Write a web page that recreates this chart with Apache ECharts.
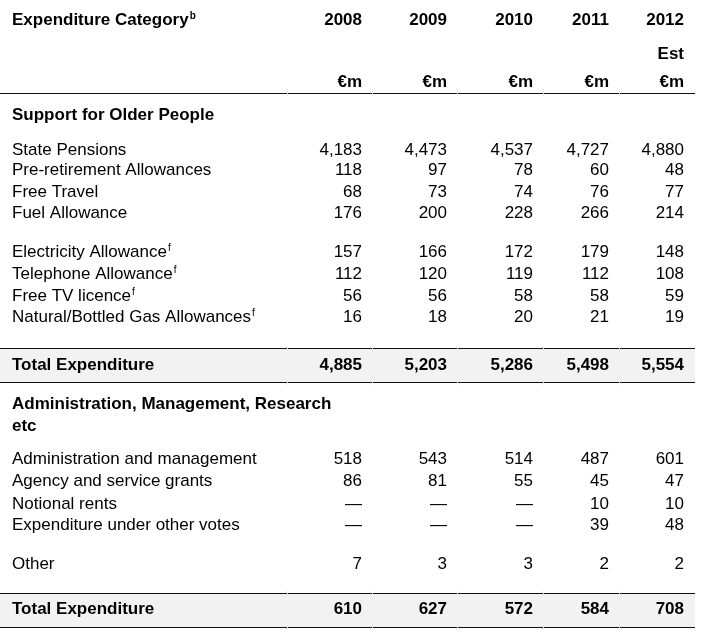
<!DOCTYPE html>
<html><head><meta charset="utf-8">
<script src="https://cdn.jsdelivr.net/npm/echarts@6/dist/echarts.min.js"></script>
<style>html,body{margin:0;padding:0;background:#fff}#c{width:703px;height:632px}</style>
</head><body><div id="c"></div>
<script>
// ---------- DATA ----------
const headerTitle = 'Expenditure Category';
const headerSup = 'b';
const years = ['2008', '2009', '2010', '2011', '2012'];
const yearNotes = ['', '', '', '', 'Est'];
const units = ['€m', '€m', '€m', '€m', '€m'];

const section1Title = 'Support for Older People';
const section1Items = ['State Pensions', 'Pre-retirement Allowances', 'Free Travel', 'Fuel Allowance',
  'Electricity Allowance', 'Telephone Allowance', 'Free TV licence', 'Natural/Bottled Gas Allowances'];
const section1Sups = ['', '', '', '', 'f', 'f', 'f', 'f'];
const statePensions = [4183, 4473, 4537, 4727, 4880];
const preRetirement = [118, 97, 78, 60, 48];
const freeTravel = [68, 73, 74, 76, 77];
const fuelAllowance = [176, 200, 228, 266, 214];
const electricityAllowance = [157, 166, 172, 179, 148];
const telephoneAllowance = [112, 120, 119, 112, 108];
const freeTvLicence = [56, 56, 58, 58, 59];
const gasAllowances = [16, 18, 20, 21, 19];
const section1Total = [4885, 5203, 5286, 5498, 5554];
const totalLabel = 'Total Expenditure';

const section2Title = 'Administration, Management, Research\netc';
const section2Items = ['Administration and management', 'Agency and service grants', 'Notional rents',
  'Expenditure under other votes', 'Other'];
const adminManagement = [518, 543, 514, 487, 601];
const agencyGrants = [86, 81, 55, 45, 47];
const notionalRents = [null, null, null, 10, 10];
const otherVotes = [null, null, null, 39, 48];
const otherExp = [7, 3, 3, 2, 2];
const section2Total = [610, 627, 572, 584, 708];

// ---------- LAYOUT (positions / styles) ----------
const W = 703, H = 632;
const labelLeft = 12;
const colRight = [362, 447, 533, 609, 684];
const tableRight = 695;
const FONT = '"Liberation Sans", Arial, Helvetica, sans-serif';
const FS = 17, FSB = 17;
const rowY = {
  head: 20, est: 54, unit: 82,
  s1Title: 115,
  s1: [150, 170, 192, 213, 252, 274, 296, 317],
  t1: 365,
  s2Title: 415,
  s2: [459, 481, 504, 525, 564],
  t2: 609
};
const ruleYs = [93, 348, 382, 593, 627];
const bands = [[348, 382], [593, 627]];
const tickXs = [287, 372, 457, 543, 619];

// ---------- BUILD CELLS ----------
function fmt(v) { return v == null ? '—' : String(v).replace(/\B(?=(\d{3})+(?!\d))/g, ','); }
const cells = [];
function add(x, y, text, align, bold, extra) {
  cells.push(Object.assign({ x, y, text, align, bold }, extra || {}));
}
add(labelLeft, rowY.head, headerTitle + '{sup|' + headerSup + '}', 'left', true, { rich: true });
years.forEach((t, i) => add(colRight[i], rowY.head, t, 'right', true));
yearNotes.forEach((t, i) => { if (t) add(colRight[i], rowY.est, t, 'right', true); });
units.forEach((t, i) => add(colRight[i], rowY.unit, t, 'right', true));
add(labelLeft, rowY.s1Title, section1Title, 'left', true);
const s1Values = [statePensions, preRetirement, freeTravel, fuelAllowance, electricityAllowance,
  telephoneAllowance, freeTvLicence, gasAllowances];
section1Items.forEach((name, r) => {
  const sup = section1Sups[r];
  add(labelLeft, rowY.s1[r], sup ? name + '{sup|' + sup + '}' : name, 'left', false, { rich: !!sup });
  s1Values[r].forEach((v, i) => add(colRight[i], rowY.s1[r], fmt(v), 'right', false));
});
add(labelLeft, rowY.t1, totalLabel, 'left', true);
section1Total.forEach((v, i) => add(colRight[i], rowY.t1, fmt(v), 'right', true));
add(labelLeft, rowY.s2Title, section2Title, 'left', true, { lineHeight: 22 });
const s2Values = [adminManagement, agencyGrants, notionalRents, otherVotes, otherExp];
section2Items.forEach((name, r) => {
  add(labelLeft, rowY.s2[r], name, 'left', false);
  s2Values[r].forEach((v, i) => add(colRight[i], rowY.s2[r], fmt(v), 'right', false));
});
add(labelLeft, rowY.t2, totalLabel, 'left', true);
section2Total.forEach((v, i) => add(colRight[i], rowY.t2, fmt(v), 'right', true));

// ---------- CHART ----------
const chart = echarts.init(document.getElementById('c'), null, { renderer: 'canvas' });
const option = {
  animation: false,
  backgroundColor: '#fff',
  grid: { left: 0, right: 0, top: 0, bottom: 0 },
  xAxis: { type: 'value', min: 0, max: W, show: false },
  yAxis: { type: 'value', min: 0, max: H, inverse: true, show: false },
  series: [
    {
      type: 'custom', silent: true, z: 1,
      data: bands.map(b => [0, b[0], b[1]]),
      renderItem: function (params, api) {
        const p0 = api.coord([0, api.value(1)]);
        const p1 = api.coord([tableRight, api.value(2)]);
        return { type: 'rect', shape: { x: p0[0], y: p0[1], width: p1[0] - p0[0], height: p1[1] - p0[1] },
          style: { fill: '#f2f2f2' } };
      }
    },
    {
      type: 'custom', silent: true, z: 2,
      data: ruleYs.map(y => [0, y]),
      renderItem: function (params, api) {
        const y = api.value(1);
        const p0 = api.coord([0, y]);
        const p1 = api.coord([tableRight, y + 1]);
        const children = [{ type: 'rect', shape: { x: p0[0], y: p0[1], width: p1[0] - p0[0], height: 1 },
          style: { fill: '#111' } }];
        tickXs.forEach(tx => {
          const a = api.coord([tx, y - 2]);
          children.push({ type: 'rect', shape: { x: a[0], y: a[1], width: 1, height: 5 }, style: { fill: '#e4e4e4' } });
        });
        return { type: 'group', children: children };
      }
    },
    {
      type: 'custom', silent: true, z: 3,
      data: cells.map(c => [c.x, c.y]),
      renderItem: function (params, api) {
        const c = cells[params.dataIndex];
        const p = api.coord([api.value(0), api.value(1)]);
        const style = {
          text: c.text, x: 0, y: 0, align: c.align, verticalAlign: 'middle',
          fill: '#000', fontFamily: FONT, fontSize: c.bold ? FSB : FS, fontWeight: c.bold ? 'bold' : 'normal'
        };
        if (c.lineHeight) style.lineHeight = c.lineHeight;
        if (c.rich) {
          style.rich = { sup: { fontSize: 10, fontFamily: FONT, fontWeight: c.bold ? 'bold' : 'normal',
            verticalAlign: 'top', fill: '#000', padding: [0, 0, 0, 1] } };
        }
        return { type: 'text', x: p[0], y: p[1], style: style };
      }
    }
  ]
};
chart.setOption(option);
</script>
</body></html>
